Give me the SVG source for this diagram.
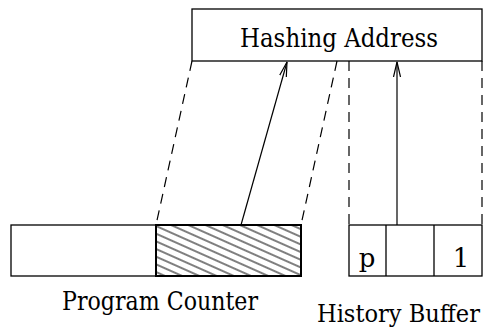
<svg xmlns="http://www.w3.org/2000/svg" width="484" height="331" viewBox="0 0 484 331">
<style>
.box{fill:#fff;stroke:#000;stroke-width:1.3}
.dash{stroke:#000;stroke-width:1.2;stroke-dasharray:10,7;fill:none}
.arr{stroke:#000;stroke-width:1.2;fill:none;marker-end:url(#ah)}
</style>
<defs>
<marker id="ah" markerWidth="16" markerHeight="10" refX="15" refY="5" orient="auto" markerUnits="userSpaceOnUse">
<path d="M0,1.5 L15,5 L0,8.5" fill="none" stroke="#000" stroke-width="1.2"/>
</marker>
<pattern id="hatch" width="8" height="7" patternUnits="userSpaceOnUse" patternTransform="rotate(24)">
<line x1="0" y1="3" x2="8" y2="3" stroke="#000" stroke-width="1"/>
</pattern>
</defs>
<g font-family="'DejaVu Serif', serif" font-size="26" fill="#000">
<g id="hashing">
<rect class="box" x="192" y="9" width="290" height="52"/>
<text x="339" y="47" text-anchor="middle" textLength="198" lengthAdjust="spacingAndGlyphs">Hashing Address</text>
</g>
<g id="pc">
<rect class="box" x="11" y="225" width="290" height="51"/>
<rect x="156" y="225" width="145" height="51" fill="url(#hatch)" stroke="#000" stroke-width="2"/>
<text x="160" y="310" text-anchor="middle" textLength="196" lengthAdjust="spacingAndGlyphs">Program Counter</text>
</g>
<g id="history">
<rect class="box" x="349" y="225" width="133" height="51"/>
<line x1="386" y1="225" x2="386" y2="276" stroke="#000" stroke-width="1.3"/>
<line x1="434" y1="225" x2="434" y2="276" stroke="#000" stroke-width="1.3"/>
<text x="367" y="267" text-anchor="middle">p</text>
<text x="461" y="267" text-anchor="middle">1</text>
<text x="480" y="322" font-size="24" text-anchor="end" textLength="163" lengthAdjust="spacingAndGlyphs">History Buffer</text>
</g>
</g>
<g id="connectors">
<line class="dash" x1="192" y1="61" x2="156" y2="225"/>
<line class="dash" x1="337" y1="61" x2="301" y2="225"/>
<line class="dash" x1="349" y1="61" x2="349" y2="225"/>
<line class="dash" x1="482" y1="61" x2="482" y2="225"/>
<line class="arr" x1="241" y1="225" x2="287" y2="62"/>
<line class="arr" x1="397" y1="225" x2="397" y2="62"/>
</g>
</svg>
